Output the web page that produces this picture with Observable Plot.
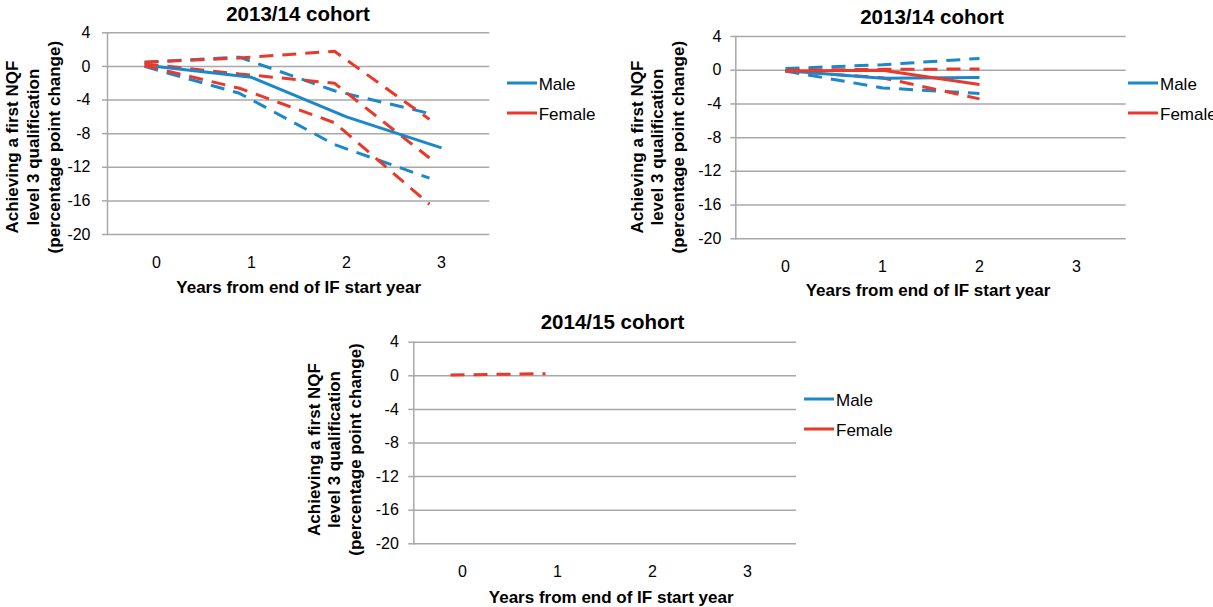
<!DOCTYPE html>
<html>
<head>
<meta charset="utf-8">
<script src="https://cdn.jsdelivr.net/npm/d3@7"></script>
<script src="https://cdn.jsdelivr.net/npm/@observablehq/plot@0.6"></script>
<style>
  html, body { margin: 0; padding: 0; background: #fff; }
  body { font-family: "Liberation Sans", Arial, sans-serif; color: #000; }
  #root { position: relative; width: 1213px; height: 607px; overflow: hidden; }
  .panel { position: absolute; }
  .title { position: absolute; font-weight: bold; font-size: 20.5px; line-height: 1; white-space: nowrap; transform: translate(-50%, -50%); }
  .legend-item { position: absolute; display: flex; align-items: center; white-space: nowrap; font-size: 17px; line-height: 1; transform: translateY(-50%); }
  .legend-item .sw { width: 30px; height: 3px; margin-right: 2px; }
  .legend-item span.t { position: relative; top: 1px; }
</style>
</head>
<body>
<div id="root"></div>
<script>
// ---------- data ----------
const years = [0, 1, 2, 3];
const yTicks = [4, 0, -4, -8, -12, -16, -20];
const groups = ["Male", "Female"];
const panelTitles = ["2013/14 cohort", "2013/14 cohort", "2014/15 cohort"];
const xTitle = "Years from end of IF start year";
const yTitleLines = ["Achieving a first NQF", "level 3 qualification", "(percentage point change)"];

// Panel A (top left, 2013/14 cohort)
const aMaleEstimate   = [0, -1.3, -6.0, -9.7];
const aMaleUpper      = [0.5, 1.1, -2.9, -5.6];
const aMaleLower      = [0, -3.2, -9.3, -13.3];
const aFemaleUpper    = [0.5, 1.0, 1.8, -6.3];
const aFemaleEstimate = [0.3, -0.9, -2.0, -10.9];
const aFemaleLower    = [0.1, -2.6, -6.7, -16.4];

// Panel B (top right, 2013/14 cohort)
const bMaleEstimate   = [-0.05, -0.95, -0.85];
const bMaleUpper      = [0.2, 0.65, 1.4];
const bMaleLower      = [-0.1, -2.1, -2.75];
const bFemaleEstimate = [-0.1, 0.0, -1.7];
const bFemaleUpper    = [0.0, 0.1, 0.15];
const bFemaleLower    = [-0.1, -0.9, -3.4];

// Panel C (bottom, 2014/15 cohort)
const cFemaleEstimate = [0.1, 0.25];

// ---------- helpers ----------
function series(values, group, kind) {
  return values.map((v, i) => ({ year: years[i], value: v, group, kind, id: group + "-" + kind }));
}

const colors = ["#1a88c9", "#e8392b"];
const gridColor = "#a8a8a8";
const font = "'Liberation Sans', Arial, sans-serif";

const panels = [
  {
    title: panelTitles[0], titleX: 298, titleY: 14,
    left: 0, top: 0, width: 500, height: 300,
    mL: 107, mR: 10.7, mT: 32.3, mB: 66,
    tickPad: 12,
    yTitleDx: -75, yTitleDy: 13.5, xTitleDy: 53, xTitleDx: 0,
    dashDx: -12,
    data: [
      ...series(aMaleUpper, "Male", "upper"),
      ...series(aMaleLower, "Male", "lower"),
      ...series(aMaleEstimate, "Male", "estimate"),
      ...series(aFemaleUpper, "Female", "upper"),
      ...series(aFemaleEstimate, "Female", "estimate"),
      ...series(aFemaleLower, "Female", "lower")
    ],
    solid: d => d.group === "Male" && d.kind === "estimate",
    legendX: 506.7, legendY: [82.5, 113]
  },
  {
    title: panelTitles[1], titleX: 932, titleY: 16.7,
    left: 620, top: 0, width: 510, height: 300,
    mL: 115.3, mR: 4.3, mT: 36, mB: 61.7,
    tickPad: 9.5,
    yTitleDx: -79, yTitleDy: 9.5, xTitleDy: 51.7, xTitleDx: -3,
    dashDx: 0,
    data: [
      ...series(bMaleUpper, "Male", "upper"),
      ...series(bMaleLower, "Male", "lower"),
      ...series(bMaleEstimate, "Male", "estimate"),
      ...series(bFemaleUpper, "Female", "upper"),
      ...series(bFemaleLower, "Female", "lower"),
      ...series(bFemaleEstimate, "Female", "estimate")
    ],
    solid: d => d.kind === "estimate",
    legendX: 1128, legendY: [82.7, 113.3]
  },
  {
    title: panelTitles[2], titleX: 612.5, titleY: 321.7,
    left: 290, top: 305, width: 510, height: 302,
    mL: 123.3, mR: 4, mT: 36.7, mB: 63.7,
    tickPad: 10,
    yTitleDx: -80, yTitleDy: 6.5, xTitleDy: 53.4, xTitleDx: 6,
    dashDx: -12,
    data: [
      ...series(cFemaleEstimate, "Female", "estimate")
    ],
    solid: d => false,
    legendX: 804, legendY: [399, 429.3]
  }
];

const root = document.getElementById("root");

for (const p of panels) {
  const solidData = p.data.filter(p.solid);
  const dashedData = p.data.filter(d => !p.solid(d));

  const chart = Plot.plot({
    width: p.width,
    height: p.height,
    marginLeft: p.mL,
    marginRight: p.mR,
    marginTop: p.mT,
    marginBottom: p.mB,
    style: { fontFamily: font, fontSize: "16px", background: "transparent", overflow: "visible", color: "#000" },
    x: { type: "point", domain: years, padding: 0.5 },
    y: { domain: [-20, 4] },
    color: { domain: groups, range: colors },
    marks: [
      Plot.ruleY(yTicks, { stroke: gridColor, strokeWidth: 1.5 }),
      Plot.frame({ anchor: "left", stroke: gridColor, strokeWidth: 1.5 }),
      Plot.axisY(yTicks, {
        tickSize: 5, tickPadding: p.tickPad, stroke: gridColor, strokeWidth: 1.5,
        fontSize: 16, label: null, tickFormat: d => String(d)
      }),
      Plot.axisX(years, {
        tickSize: 0, tickPadding: 22, fontSize: 16, label: null, tickFormat: d => String(d)
      }),
      Plot.line(dashedData, {
        x: "year", y: "value", z: "id", stroke: "group",
        strokeWidth: 3, strokeDasharray: "14,9", strokeLinecap: "butt",
        strokeLinejoin: "miter", dx: p.dashDx
      }),
      Plot.line(solidData, {
        x: "year", y: "value", z: "id", stroke: "group",
        strokeWidth: 3, strokeLinecap: "butt"
      }),
      Plot.text([yTitleLines.join("\n")], {
        text: d => d, frameAnchor: "left", rotate: -90,
        dx: p.yTitleDx, dy: p.yTitleDy, fontSize: 17, fontWeight: "bold",
        lineHeight: 1.22, textAnchor: "middle", lineAnchor: "middle", fill: "#000"
      }),
      Plot.text([xTitle], {
        text: d => d, frameAnchor: "bottom", dy: p.xTitleDy, dx: p.xTitleDx,
        fontSize: 17, fontWeight: "bold", lineAnchor: "middle", textAnchor: "middle", fill: "#000"
      })
    ]
  });

  const wrap = document.createElement("div");
  wrap.className = "panel";
  wrap.style.left = p.left + "px";
  wrap.style.top = p.top + "px";
  wrap.appendChild(chart);
  root.appendChild(wrap);

  const t = document.createElement("div");
  t.className = "title";
  t.textContent = p.title;
  t.style.left = p.titleX + "px";
  t.style.top = p.titleY + "px";
  root.appendChild(t);

  groups.forEach((g, i) => {
    const item = document.createElement("div");
    item.className = "legend-item";
    item.style.left = p.legendX + "px";
    item.style.top = p.legendY[i] + "px";
    const sw = document.createElement("div");
    sw.className = "sw";
    sw.style.background = colors[i];
    const label = document.createElement("span");
    label.className = "t";
    label.textContent = g;
    item.appendChild(sw);
    item.appendChild(label);
    root.appendChild(item);
  });
}
</script>
</body>
</html>
